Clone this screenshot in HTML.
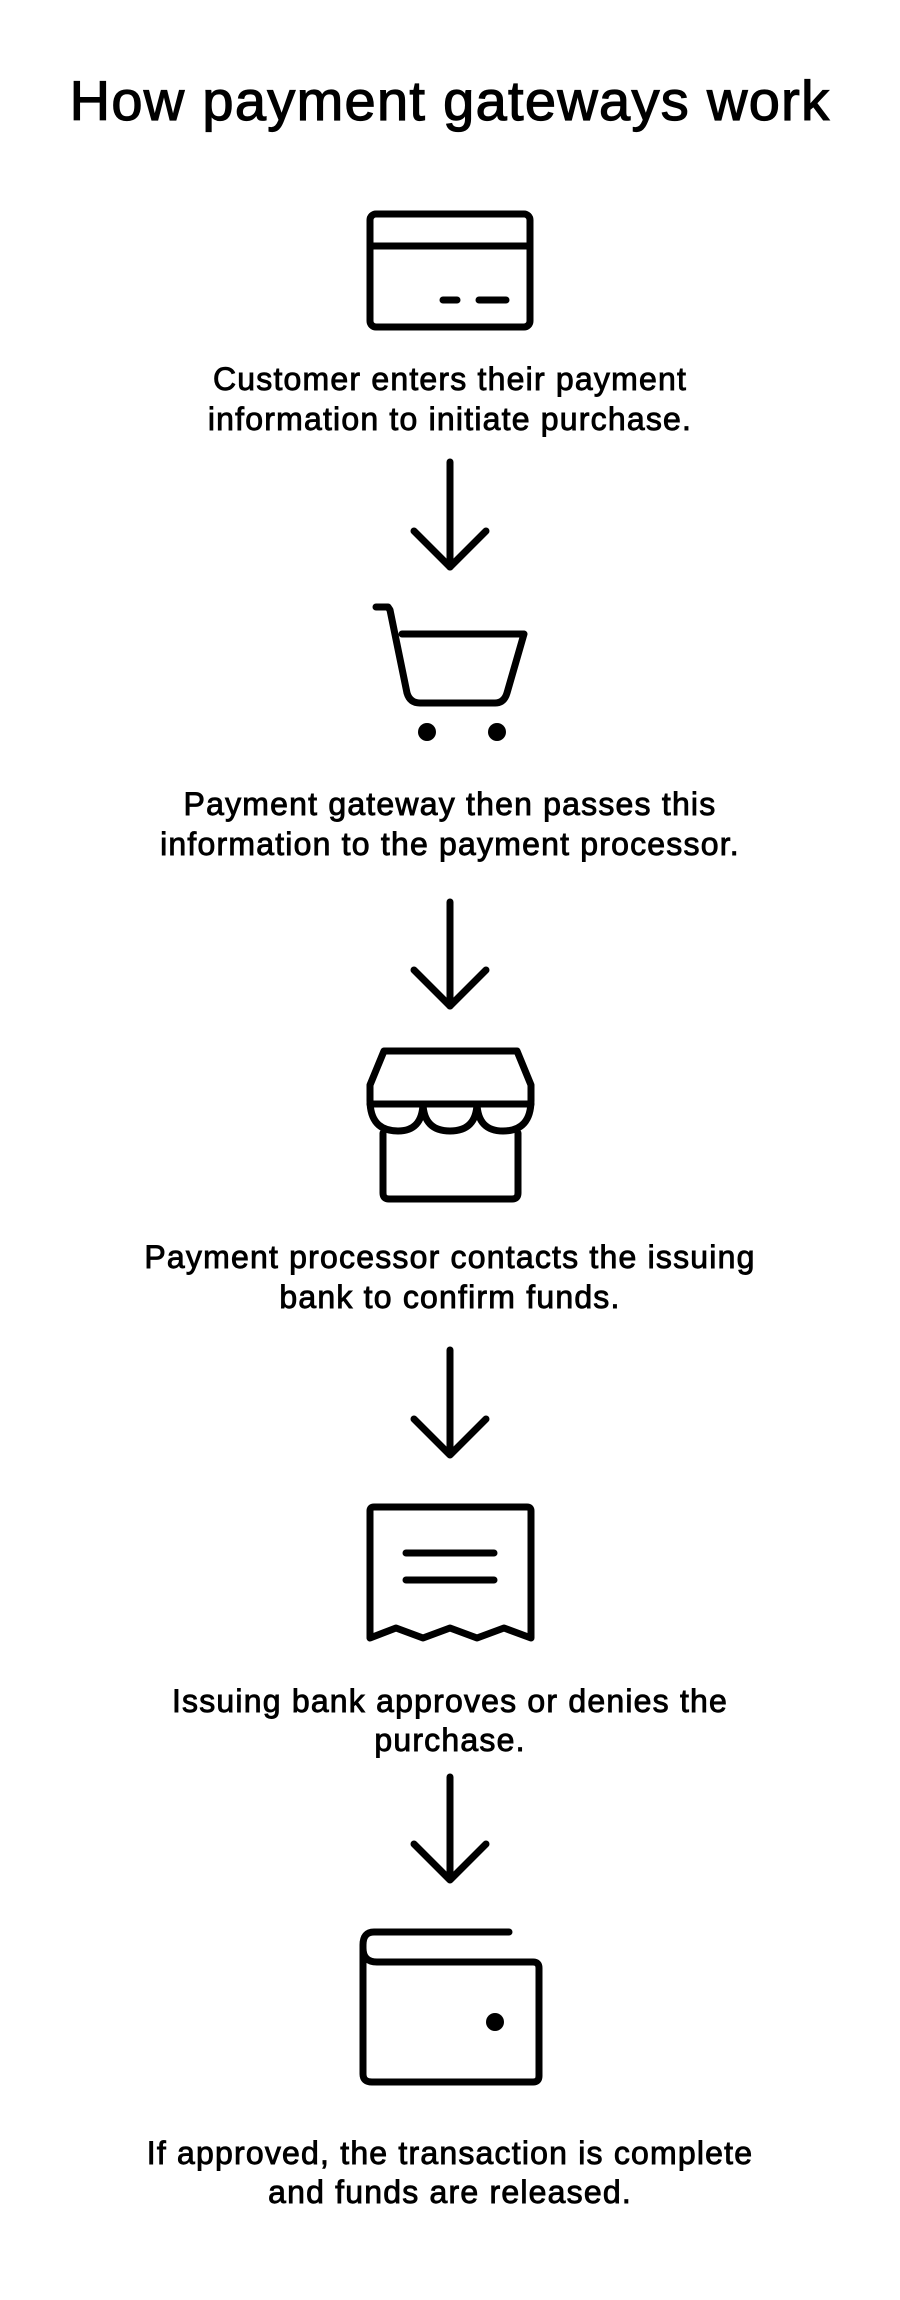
<!DOCTYPE html>
<html><head><meta charset="utf-8"><style>
html,body{margin:0;padding:0;background:#fff;}
svg{display:block;}
text{font-family:"Liberation Sans",Arial,sans-serif;fill:#000;text-anchor:middle;}
.t{font-size:32px;stroke:#000;stroke-width:0.9px;letter-spacing:1.2px;}
</style></head><body>
<svg width="900" height="2300" viewBox="0 0 900 2300" xmlns="http://www.w3.org/2000/svg">
<rect width="900" height="2300" fill="#fff"/>
<text x="450" y="120" style="font-size:56px;stroke:#000;stroke-width:1.2px;letter-spacing:1.3px">How payment gateways work</text>
<g fill="none" stroke="#000" stroke-width="7" stroke-linecap="round" stroke-linejoin="round">
<rect x="370" y="214" width="160" height="113" rx="6"/>
<line x1="370" y1="246" x2="530" y2="246"/>
<line x1="443" y1="300" x2="457" y2="300"/>
<line x1="479" y1="300" x2="506" y2="300"/>
<line x1="450" y1="462" x2="450" y2="567"/>
<polyline points="414,531 450,567 486,531"/>
<path d="M376,607 H388 L390,610 L407,693 Q410,703 420,703 H495 Q504,703 507,693 L524,634 H402"/>
<line x1="450" y1="902" x2="450" y2="1006"/>
<polyline points="414,970 450,1006 486,970"/>
<path d="M384,1051 H517 L531,1085 V1100 M384,1051 L370,1085 V1100"/>
<line x1="370" y1="1104" x2="531" y2="1104"/>
<path d="M370,1100 Q370,1131 398,1131 Q422,1131 423,1104 Q424,1131 450,1131 Q476,1131 477,1104 Q478,1131 503,1131 Q531,1131 531,1100"/>
<path d="M383,1133 V1193 Q383,1199 389,1199 H512 Q518,1199 518,1193 V1133"/>
<line x1="450" y1="1350" x2="450" y2="1454"/>
<polyline points="414,1419 450,1455 486,1419"/>
<path d="M370,1638 V1511 Q370,1507 374,1507 H527 Q531,1507 531,1511 V1638 L504,1628 L477,1638 L450,1628 L423,1638 L396,1628 Z"/>
<line x1="406" y1="1553" x2="494" y2="1553"/>
<line x1="406" y1="1580" x2="494" y2="1580"/>
<line x1="450" y1="1777" x2="450" y2="1879"/>
<polyline points="414,1844 450,1880 486,1844"/>
<path d="M509,1932 H374 Q363,1932 363,1945 V2074 Q363,2082 372,2082 H533 Q539,2082 539,2076 V1968 Q539,1962 533,1962 H377 Q363,1962 363,1948"/>
</g>
<circle cx="427" cy="732" r="9"/>
<circle cx="497" cy="732" r="9"/>
<circle cx="495" cy="2022" r="9"/>
<text class="t" x="450" y="390">Customer enters their payment</text>
<text class="t" x="450" y="430">information to initiate purchase.</text>
<text class="t" x="450" y="815">Payment gateway then passes this</text>
<text class="t" x="450" y="855">information to the payment processor.</text>
<text class="t" x="450" y="1268">Payment processor contacts the issuing</text>
<text class="t" x="450" y="1308">bank to confirm funds.</text>
<text class="t" x="450" y="1712">Issuing bank approves or denies the</text>
<text class="t" x="450" y="1751">purchase.</text>
<text class="t" x="450" y="2164">If approved, the transaction is complete</text>
<text class="t" x="450" y="2203">and funds are released.</text>
</svg>
</body></html>
